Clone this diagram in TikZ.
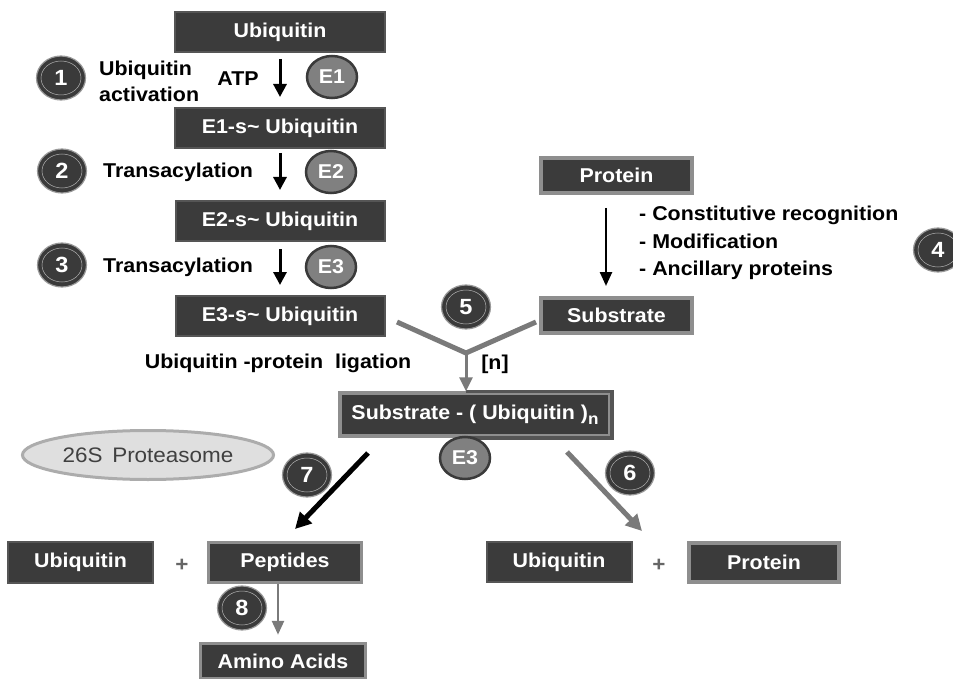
\documentclass[tikz,border=0pt]{standalone}
\usepackage{fontspec}
\setmainfont[FakeStretch=1.07]{Liberation Sans}
\usetikzlibrary{arrows.meta,shapes.geometric,calc}
\definecolor{boxfill}{HTML}{3B3B3B}
\definecolor{boxline}{HTML}{555555}
\definecolor{greyline}{HTML}{8E8E8E}
\definecolor{numfill}{HTML}{3A3A3A}
\definecolor{efill}{HTML}{808080}
\definecolor{armgrey}{HTML}{7A7A7A}
\begin{document}
\begin{tikzpicture}[x=1pt,y=-1pt,
  font=\bfseries\fontsize{20}{23}\selectfont,
  darkbox/.style={rectangle,fill=boxfill,draw=boxline,line width=2,text=white,inner sep=0},
  greybox/.style={rectangle,fill=boxfill,draw=greyline,line width=3.5,text=white,inner sep=0},
  numcirc/.style={ellipse,fill=numfill,draw=gray!80,line width=1.2,minimum width=49,minimum height=44,inner sep=0,text=white,
     font=\bfseries\fontsize{22}{22}\selectfont,
     path picture={\draw[gray!60,line width=0.5] (path picture bounding box.center) ellipse [x radius=20,y radius=17];}},
  ecirc/.style={ellipse,fill=efill,draw=numfill,line width=2.5,minimum width=50,minimum height=42,inner sep=0,text=white,
     font=\bfseries\fontsize{20}{20}\selectfont},
  label/.style={text=black,inner sep=0},
  downarr/.style={draw=black,line width=3,-{Triangle[length=13,width=13]}},
  plus/.style={text=gray!80!black,inner sep=0,font=\bfseries\fontsize{21}{21}\selectfont}
]
\useasboundingbox (0,0) rectangle (953,679);

% left cascade
\node[darkbox,minimum width=210,minimum height=40] (ub) at (280,32) {Ubiquitin};
\node[darkbox,minimum width=210,minimum height=40] (e1s) at (280,128) {E1-s\textasciitilde{} Ubiquitin};
\node[darkbox,minimum width=209,minimum height=40] (e2s) at (280,221) {E2-s\textasciitilde{} Ubiquitin};
\node[darkbox,minimum width=209,minimum height=40] (e3s) at (280,316) {E3-s\textasciitilde{} Ubiquitin};

\node[numcirc] (c1) at (61,78) {1};
\node[numcirc] (c2) at (62,171) {2};
\node[numcirc] (c3) at (62,265) {3};

\node[label,anchor=west,align=left,font=\bfseries\fontsize{20}{26}\selectfont] (act) at (99,81) {Ubiquitin\\activation};
\node[label] (atp) at (238,79) {ATP};
\node[label,anchor=west] (tr2) at (103,172) {Transacylation};
\node[label,anchor=west] (tr3) at (103,267) {Transacylation};

\node[ecirc] (e1) at (332,77) {E1};
\node[ecirc] (e2) at (331,172) {E2};
\node[ecirc] (e3) at (331,267) {E3};

\draw[downarr,shorten <=6,shorten >=10] (ub) -- (e1s);
\draw[downarr,shorten <=4,shorten >=10] (e1s) -- (e2s);
\draw[downarr,shorten <=7,shorten >=10] (e2s) -- (e3s);

% right branch
\node[greybox,minimum width=151,minimum height=35] (prot) at (616.5,175.5) {Protein};
\node[greybox,minimum width=151,minimum height=35] (subs) at (616.5,315.5) {Substrate};
\coordinate (pa) at (606,208);
\coordinate (pb) at (606,286);
\draw[draw=black,line width=2.5,-{Triangle[length=14,width=12]}] (pa) -- (pb);
\node[label,anchor=north west,align=left,font=\bfseries\fontsize{20}{27.5}\selectfont] (list) at (639,206)
  {- Constitutive recognition\\- Modification\\- Ancillary proteins};
\node[numcirc] (c4) at (938,250) {4};

% ligation
\node[numcirc] (c5) at (466,307) {5};
\node[label] (lig) at (278,363) {Ubiquitin -protein \ ligation};
\node[label] (nn) at (495,364) {[n]};
\node[greybox,minimum width=270,minimum height=43] (subn) at (475,414.5)
  {Substrate - ( Ubiquitin )\raisebox{-5pt}{\fontsize{16}{16}\selectfont n}};
\coordinate (ya) at (397,322);
\coordinate (yb) at (536,322);
\coordinate (yj) at (466,353);
\draw[boxline,line width=3.5] (yj |- subn.north) -| (subn.south east) -- (yj |- subn.south);
\draw[armgrey,line width=5,line join=miter] (ya) -- (yj) -- (yb);
\draw[armgrey,line width=3,-{Triangle[length=14,width=13]}] (yj) -- (yj |- subn.north);
\node[ecirc] (e3b) at (465,458) {E3};

% proteasome
\node[ellipse,fill=gray!25,draw=gray!65,line width=3,minimum width=227,minimum height=49,
  text=black!75,font=\fontsize{21}{22}\selectfont] (prs) at (148,455) {26S \,Proteasome};

% degradation
\node[numcirc] (c7) at (307,475) {7};
\node[numcirc] (c6) at (630,473) {6};
\node[darkbox,minimum width=145,minimum height=41] (ubl) at (80.5,562.5) {Ubiquitin};
\node[plus] (pl1) at (182,565) {+};
\node[greybox,minimum width=153,minimum height=40] (pep) at (285,562.5) {Peptides};
\node[numcirc] (c8) at (242,608) {8};
\node[greybox,minimum width=165,minimum height=35] (amino) at (283,661) {Amino Acids};
\node[darkbox,minimum width=145,minimum height=40] (ubr) at (559,562) {Ubiquitin};
\node[plus] (pl2) at (659,565) {+};
\node[greybox,minimum width=150,minimum height=39] (protr) at (764,562.5) {Protein};

\coordinate (s7) at (368,453);
\coordinate (t7) at (295,529);
\draw[draw=black,line width=5,-{Triangle[length=16,width=16]}] (s7) -- (t7);
\coordinate (s6) at (567,452);
\coordinate (t6) at (642,531);
\draw[draw=armgrey,line width=5,-{Triangle[length=16,width=16]}] (s6) -- (t6);
\draw[draw=armgrey,line width=2.5,-{Triangle[length=14,width=12]}] (pep.south -| 278,0) -- ($(amino.north -| 278,0)+(0,-7)$);
\end{tikzpicture}
\end{document}
